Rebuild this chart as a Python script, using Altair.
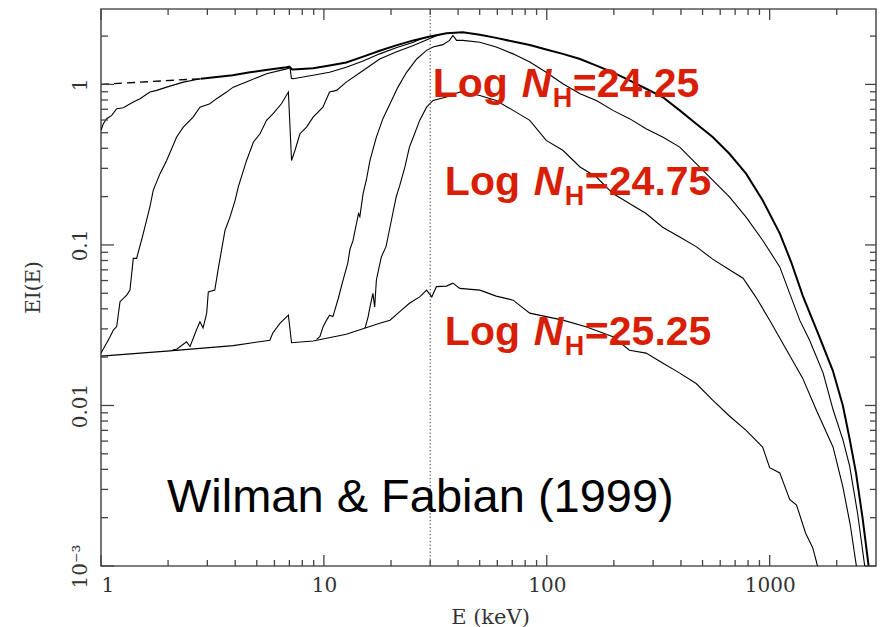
import math
import altair as alt
import pandas as pd

# ---------------- data ----------------
dashed_E = [1.0, 2.8]
dashed_I = [1.0, 1.085]

top_E = [2.8, 3.9, 4.66, 5.5, 6.8, 7.0, 7.2, 7.6, 8.95, 10.6, 12.6, 15.0, 17.8, 21.1, 25.2,
         29.9, 35.5, 42.0, 50.1, 59.3, 70.6, 83.9, 99.4, 118, 141, 167, 198, 235, 279, 331,
         395, 468, 555, 660, 784, 930, 1110, 1250, 1410, 1650, 1920, 2130, 2284, 2440, 2610, 2780]
top_I = [1.085, 1.14, 1.19, 1.23, 1.28, 1.29, 1.24, 1.245, 1.26, 1.31, 1.37, 1.49, 1.62, 1.75, 1.88,
         1.99, 2.08, 2.11, 2.04, 1.95, 1.85, 1.76, 1.65, 1.55, 1.44, 1.31, 1.19, 1.06, 0.94, 0.834,
         0.689, 0.569, 0.47, 0.37, 0.278, 0.19, 0.118, 0.078, 0.048, 0.028, 0.0165, 0.01, 0.0062, 0.0038, 0.002, 0.001]

c2_E = [1.0, 1.024, 1.06, 1.117, 1.176, 1.259, 1.396, 1.496, 1.658, 1.777, 1.97, 2.34, 2.8]
c2_I = [0.517, 0.569, 0.611, 0.641, 0.706, 0.716, 0.776, 0.815, 0.896, 0.918, 0.962, 1.033, 1.085]

c3_E = [1.0, 1.06, 1.098, 1.136, 1.176, 1.217, 1.304, 1.349, 1.396, 1.445, 1.548, 1.658, 1.715, 1.84, 1.97,
        2.185, 2.34, 2.59, 2.78, 3.08, 3.30, 3.66, 3.92, 4.66, 5.53, 6.8, 7.05, 7.15, 7.29, 8.95,
        10.6, 12.6, 15.0, 17.8, 21.1, 25.2, 27.5]
c3_I = [0.0212, 0.0245, 0.0268, 0.0295, 0.031, 0.0443, 0.0487, 0.0523, 0.0825, 0.0825, 0.118, 0.173, 0.219, 0.278, 0.336,
        0.47, 0.542, 0.626, 0.722, 0.758, 0.815, 0.896, 0.962, 1.059, 1.166, 1.25, 1.27, 1.09, 1.085, 1.14,
        1.19, 1.28, 1.40, 1.55, 1.69, 1.83, 1.93]

c4_E = [2.1, 2.185, 2.42, 2.51, 2.68, 2.78, 2.87, 2.98, 3.03, 3.24, 3.36, 3.6, 3.79, 4.0, 4.13,
        4.5, 4.83, 5.17, 5.53, 5.92, 6.45, 6.93, 7.16, 7.42, 7.81, 8.36, 8.95, 9.9, 10.6, 11.4,
        12.6, 15.0, 17.8, 21.1, 25.2, 29.9, 33.0]
c4_I = [0.0222, 0.0224, 0.0249, 0.0233, 0.0295, 0.0332, 0.0304, 0.0376, 0.051, 0.0523, 0.0714, 0.123, 0.149, 0.19, 0.23,
        0.336, 0.438, 0.493, 0.597, 0.657, 0.758, 0.896, 0.336, 0.389, 0.493, 0.542, 0.626, 0.722, 0.896, 0.918,
        1.033, 1.22, 1.44, 1.59, 1.75, 1.93, 2.05]

# log NH = 24.25
c5_E = [9.27, 9.59, 9.92, 10.27, 10.6, 10.98, 11.6, 12.2, 12.8, 13.1, 13.5, 14.3, 14.5, 14.99, 15.5,
        16.1, 17.2, 18.4, 19.8, 21.5, 23.5, 26.1, 28.9, 30.9, 34.2, 36.6, 37.9, 39.4, 42.0, 50.1,
        59.3, 70.6, 83.9, 99.4, 118, 141, 167, 198, 235, 279, 331, 395, 468, 555, 660,
        784, 930, 1110, 1364, 1511, 1738, 1926, 2132, 2284, 2484, 2670]
c5_I = [0.0258, 0.0268, 0.0309, 0.0339, 0.0365, 0.0358, 0.0464, 0.0605, 0.077, 0.0944, 0.106, 0.157, 0.15, 0.209, 0.253,
        0.336, 0.47, 0.612, 0.758, 0.962, 1.19, 1.44, 1.63, 1.71, 1.77, 1.88, 2.02, 1.88, 1.88, 1.83,
        1.71, 1.55, 1.38, 1.19, 1.01, 0.875, 0.795, 0.689, 0.612, 0.53, 0.47, 0.407, 0.321, 0.253, 0.199,
        0.149, 0.107, 0.073, 0.034, 0.0255, 0.0159, 0.0094, 0.0061, 0.0042, 0.0021, 0.001]

# log NH = 24.75
c6_E = [15.3, 15.8, 16.1, 16.6, 16.9, 17.2, 18.1, 19.0, 20.1, 21.1, 21.9, 23.1, 24.2, 25.2, 26.9,
        28.9, 30.9, 35.5, 40.7, 42.0, 50.1, 59.3, 70.6, 83.9, 99.4, 118, 141, 167, 198, 235,
        279, 331, 395, 468, 555, 660, 760, 870, 1000, 1143, 1406, 1617, 1926, 2132, 2300, 2450]
c6_I = [0.0303, 0.0358, 0.0411, 0.0499, 0.0411, 0.0605, 0.0842, 0.0976, 0.143, 0.199, 0.235, 0.306, 0.407, 0.47, 0.597,
        0.722, 0.795, 0.834, 0.896, 0.896, 0.854, 0.795, 0.689, 0.597, 0.448, 0.389, 0.306, 0.265, 0.209, 0.181,
        0.157, 0.129, 0.112, 0.0976, 0.0816, 0.07, 0.062, 0.047, 0.034, 0.0245, 0.0148, 0.0094, 0.0055, 0.0031, 0.0018, 0.001]

# log NH = 25.25
c7_E = [1.0, 1.97, 3.92, 5.72, 5.9, 6.35, 6.93, 7.16, 8.95, 12.6, 17.8, 19.8, 21.9, 24.2, 26.9,
        28.9, 30.5, 32.0, 35.5, 37.9, 40.7, 50.1, 59.3, 70.6, 83.9, 118, 150, 198, 235, 279,
        331, 395, 468, 555, 660, 784, 930, 1000, 1110, 1230, 1320, 1450, 1560, 1640]
c7_I = [0.0203, 0.0218, 0.0236, 0.0255, 0.0283, 0.0325, 0.0365, 0.0246, 0.0252, 0.0278, 0.0325, 0.034, 0.0384, 0.0433, 0.0475,
        0.0523, 0.0475, 0.055, 0.0554, 0.0578, 0.0536, 0.0523, 0.048, 0.0453, 0.0376, 0.034, 0.0309, 0.0268, 0.0221, 0.0212,
        0.0184, 0.0159, 0.0137, 0.0108, 0.0086, 0.007, 0.0055, 0.0041, 0.0038, 0.0026, 0.0024, 0.0016, 0.0013, 0.001]

x_major = [1, 10, 100, 1000]
x_minor = [2, 3, 4, 5, 6, 7, 8, 9, 20, 30, 40, 50, 60, 70, 80, 90,
           200, 300, 400, 500, 600, 700, 800, 900, 2000]
y_major = [0.001, 0.01, 0.1, 1]
y_minor = [0.002, 0.003, 0.004, 0.005, 0.006, 0.007, 0.008, 0.009,
           0.02, 0.03, 0.04, 0.05, 0.06, 0.07, 0.08, 0.09,
           0.2, 0.3, 0.4, 0.5, 0.6, 0.7, 0.8, 0.9, 2]

edge_E = [30]

ann_E = [30.8, 34.9, 34.9]
ann_I = [0.83, 0.204, 0.0238]
ann_val = ["=24.25", "=24.75", "=25.25"]
credit_E = [1.977]
credit_I = [0.00217]
credit_text = ["Wilman & Fabian (1999)"]

# ---------------- chart ----------------
W, H = 775, 557
X_DOM = [1, 3000]
Y_DOM = [0.001, 2.95]
RED = "#d81e05"
AX = "#444444"

def frame(E, I, name):
    return pd.DataFrame({"E": E, "I": I, "s": name, "o": list(range(len(E)))})

thin = pd.concat([frame(c2_E, c2_I, "c2"), frame(c3_E, c3_I, "c3"), frame(c4_E, c4_I, "c4"),
                  frame(c5_E, c5_I, "c5"), frame(c6_E, c6_I, "c6"), frame(c7_E, c7_I, "c7")])
topdf = frame(top_E, top_I, "top")
dashdf = frame(dashed_E, dashed_I, "dash")

xs = alt.Scale(type="log", domain=X_DOM, nice=False)
ys = alt.Scale(type="log", domain=Y_DOM, nice=False)

xaxis = alt.Axis(values=x_major, format="d", ticks=False, tickSize=0, domain=False, grid=False,
                 labelPadding=9, labelFont="DejaVu Serif", labelFontSize=20, labelColor="#333",
                 titleFont="DejaVu Serif", titleFontSize=21, titleFontWeight="normal", titleColor="#333",
                 titleX=389, titleY=51, titleBaseline="middle", titleAlign="center")
yaxis = alt.Axis(values=y_major, ticks=False, tickSize=0, domain=False, grid=False,
                 labelExpr="datum.value >= 0.5 ? '1' : datum.value >= 0.05 ? '0.1' : datum.value >= 0.005 ? '0.01' : '10\u207b\u00b3'",
                 labelAngle=270, labelAlign="center", labelBaseline="bottom", labelPadding=11,
                 labelFont="DejaVu Serif", labelFontSize=20, labelColor="#333",
                 titleFont="DejaVu Serif", titleFontSize=20, titleFontWeight="normal", titleColor="#333",
                 titleX=-68, titleY=278, titleAngle=270, titleBaseline="middle", titleAlign="center")

X = alt.X("E:Q", scale=xs, axis=xaxis, title="E (keV)")
Y = alt.Y("I:Q", scale=ys, axis=yaxis, title="EI(E)")

lines = alt.Chart(thin).mark_line(color="black", strokeWidth=1.1, clip=True).encode(
    x=X, y=Y, detail="s:N", order="o:Q")
topline = alt.Chart(topdf).mark_line(color="black", strokeWidth=2.0, clip=True).encode(
    x=X, y=Y, order="o:Q")
dash = alt.Chart(dashdf).mark_line(color="black", strokeWidth=1.3, strokeDash=[8, 5]).encode(
    x=X, y=Y, order="o:Q")
vline = alt.Chart(pd.DataFrame({"E": edge_E})).mark_rule(color="#555", strokeWidth=1.2,
                                                        strokeDash=[1.2, 2.3]).encode(x=X)

# inward frame ticks; tick length given in pixels, converted to a factor on the log scale
x_dec = W / math.log10(X_DOM[1] / X_DOM[0])
y_dec = H / math.log10(Y_DOM[1] / Y_DOM[0])

def xticks(vals, length, top):
    f = 10 ** (length / y_dec)
    base = Y_DOM[1] if top else Y_DOM[0]
    end = base / f if top else base * f
    d = pd.DataFrame({"E": vals, "I": [base] * len(vals), "I2": [end] * len(vals)})
    return alt.Chart(d).mark_rule(color=AX, strokeWidth=1.3).encode(x=X, y=Y, y2="I2:Q")

def yticks(vals, length, right):
    f = 10 ** (length / x_dec)
    base = X_DOM[1] if right else X_DOM[0]
    end = base / f if right else base * f
    d = pd.DataFrame({"I": vals, "E": [base] * len(vals), "E2": [end] * len(vals)})
    return alt.Chart(d).mark_rule(color=AX, strokeWidth=1.3).encode(y=Y, x=X, x2="E2:Q")

ticks = [xticks(x_major, 11, False), xticks(x_minor, 6, False),
         xticks(x_major, 11, True), xticks(x_minor, 6, True),
         yticks(y_major, 13, False), yticks(y_minor, 7, False),
         yticks(y_major, 11, True), yticks(y_minor, 6, True)]

ann = pd.DataFrame({"E": ann_E, "I": ann_I, "v": ann_val,
                    "a": ["Log"] * 3, "n": ["N"] * 3, "h": ["H"] * 3})
txt_common = dict(align="left", baseline="alphabetic", font="Liberation Sans", fontWeight="bold", color=RED)
t_log = alt.Chart(ann).mark_text(fontSize=41, **txt_common).encode(x=X, y=Y, text="a:N")
t_n = alt.Chart(ann).mark_text(fontSize=41, fontStyle="italic", dx=89, **txt_common).encode(x=X, y=Y, text="n:N")
t_h = alt.Chart(ann).mark_text(fontSize=27, dx=120, dy=10, **txt_common).encode(x=X, y=Y, text="h:N")
t_v = alt.Chart(ann).mark_text(fontSize=41, dx=140, **txt_common).encode(x=X, y=Y, text="v:N")

credit = alt.Chart(pd.DataFrame({"E": credit_E, "I": credit_I, "t": credit_text})).mark_text(
    align="left", baseline="alphabetic", font="Liberation Sans", fontSize=47, color="black"
).encode(x=X, y=Y, text="t:N")

chart = alt.layer(lines, topline, dash, vline, *ticks, t_log, t_n, t_h, t_v, credit).properties(
    width=W, height=H,
    padding={"left": 101, "top": 9, "right": 8, "bottom": 61},
    autosize=alt.AutoSizeParams(type="none"),
    background="white",
).configure_view(stroke="#555", strokeWidth=1.6)

chart.save("out.html", embed_options={"renderer": "svg", "actions": False})
